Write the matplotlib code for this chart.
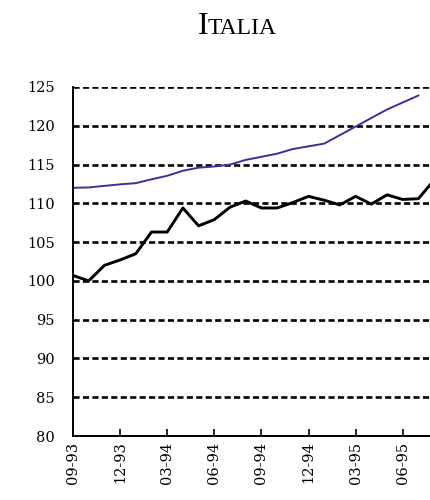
import matplotlib.pyplot as plt

plt.rcParams['lines.scale_dashes'] = False
plt.rcParams['font.family'] = 'serif'
plt.rcParams['font.serif'] = ['DejaVu Serif', 'Liberation Serif']

# monthly index values, 09-93 onwards
months = list(range(24))
black_vals = [100.7, 100.0, 102.0, 102.7, 103.5, 106.3, 106.3, 109.4, 107.1, 107.9,
              109.5, 110.3, 109.4, 109.4, 110.1, 110.9, 110.4, 109.8, 110.9, 109.9,
              111.1, 110.5, 110.6, 113.0]
blue_months = list(range(23))
blue_vals = [112.0, 112.05, 112.25, 112.45, 112.6, 113.1, 113.55, 114.2, 114.6, 114.75,
             115.0, 115.6, 116.0, 116.4, 117.0, 117.35, 117.7, 118.8, 119.9, 121.0,
             122.1, 123.0, 123.9]
tick_months = [0, 3, 6, 9, 12, 15, 18, 21]
tick_labels = ['09-93', '12-93', '03-94', '06-94', '09-94', '12-94', '03-95', '06-95']
y_ticks = [80, 85, 90, 95, 100, 105, 110, 115, 120, 125]

fig = plt.figure(figsize=(4.3, 5.0), dpi=100)
ax = fig.add_axes([73 / 430, 64 / 500, 357 / 430, 349 / 500])

ax.plot(blue_months, blue_vals, color='#3b2f9c', lw=1.4, zorder=3)
ax.plot(months, black_vals, color='black', lw=2.1, zorder=3)

ax.set_xlim(0, 357 / 15.7)
ax.set_ylim(80, 125)
ax.set_yticks(y_ticks)
ax.set_xticks(tick_months)
ax.set_xticklabels(tick_labels, rotation=90)
ax.tick_params(axis='both', labelsize=10.5)

ax.tick_params(axis='y', length=0, pad=13)
ax.tick_params(axis='x', direction='in', length=5, width=1.2, pad=4)
ax.grid(axis='y', color='black', linewidth=1.9, linestyle=(0, (4.4, 2.4)))
ax.set_axisbelow(True)

for s in ['top', 'right']:
    ax.spines[s].set_visible(False)
for s in ['left', 'bottom']:
    ax.spines[s].set_linewidth(1.4)
    ax.spines[s].set_zorder(4)

# title in small caps
fig.text(198 / 430, 1 - 34 / 500, 'I', family='Liberation Serif', fontsize=23,
         ha='left', va='baseline')
fig.text(208 / 430, 1 - 34 / 500, 'TALIA', family='Liberation Serif', fontsize=17,
         ha='left', va='baseline')

fig.savefig('out.png', dpi=100)
